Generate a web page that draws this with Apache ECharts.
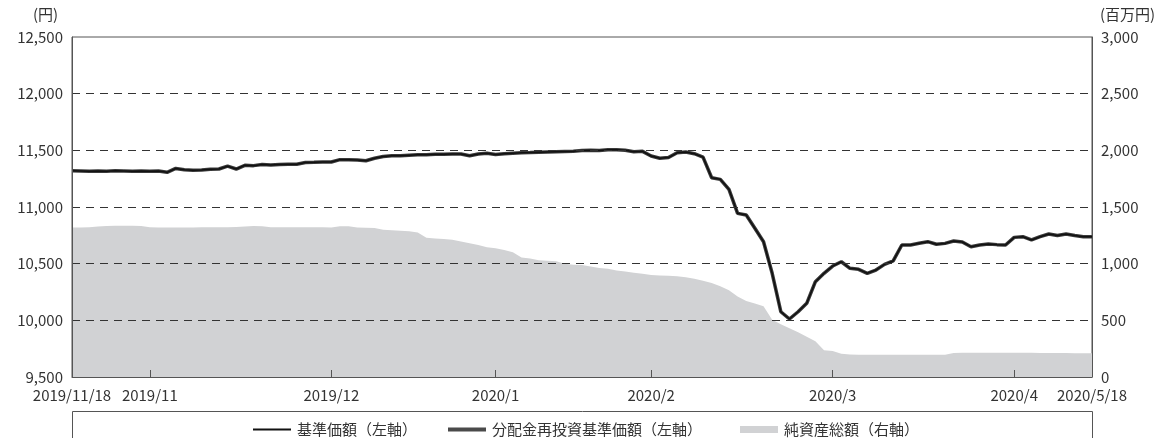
<!DOCTYPE html>
<html>
<head>
<meta charset="utf-8">
<script src="https://cdn.jsdelivr.net/npm/echarts@6/dist/echarts.min.js"></script>
<style>
  html, body { margin: 0; padding: 0; background: #fff; }
  #chart { width: 1172px; height: 438px; }
</style>
</head>
<body>
<div id="chart"></div>
<script>
// business days 2019/11/18 - 2020/5/18
const dates = [
  '2019/11/18','2019/11/19','2019/11/20','2019/11/21','2019/11/22','2019/11/25','2019/11/26','2019/11/27','2019/11/28','2019/11/29',
  '2019/12/2','2019/12/3','2019/12/4','2019/12/5','2019/12/6','2019/12/9','2019/12/10','2019/12/11','2019/12/12','2019/12/13',
  '2019/12/16','2019/12/17','2019/12/18','2019/12/19','2019/12/20','2019/12/23','2019/12/24','2019/12/25','2019/12/26','2019/12/27',
  '2019/12/30',
  '2020/1/6','2020/1/7','2020/1/8','2020/1/9','2020/1/10','2020/1/14','2020/1/15','2020/1/16','2020/1/17','2020/1/20',
  '2020/1/21','2020/1/22','2020/1/23','2020/1/24','2020/1/27','2020/1/28','2020/1/29','2020/1/30','2020/1/31',
  '2020/2/3','2020/2/4','2020/2/5','2020/2/6','2020/2/7','2020/2/10','2020/2/12','2020/2/13','2020/2/14','2020/2/17',
  '2020/2/18','2020/2/19','2020/2/20','2020/2/21','2020/2/25','2020/2/26','2020/2/27','2020/2/28',
  '2020/3/2','2020/3/3','2020/3/4','2020/3/5','2020/3/6','2020/3/9','2020/3/10','2020/3/11','2020/3/12','2020/3/13',
  '2020/3/16','2020/3/17','2020/3/18','2020/3/19','2020/3/23','2020/3/24','2020/3/25','2020/3/26','2020/3/27','2020/3/30',
  '2020/3/31',
  '2020/4/1','2020/4/2','2020/4/3','2020/4/6','2020/4/7','2020/4/8','2020/4/9','2020/4/10','2020/4/13','2020/4/14',
  '2020/4/15','2020/4/16','2020/4/17','2020/4/20','2020/4/21','2020/4/22','2020/4/23','2020/4/24','2020/4/27','2020/4/28',
  '2020/4/30',
  '2020/5/1','2020/5/7','2020/5/8','2020/5/11','2020/5/12','2020/5/13','2020/5/14','2020/5/15','2020/5/18'
];

// month-end ticks and their labels
const monthEnds = ['2019/11/29', '2019/12/30', '2020/1/31', '2020/2/28', '2020/3/31', '2020/4/30'];
const monthLabels = ['2019/11', '2019/12', '2020/1', '2020/2', '2020/3', '2020/4'];

// 基準価額 (円)
const nav = [
  11320, 11318, 11315, 11318, 11316, 11320, 11318, 11316, 11318, 11316,
  11318, 11306, 11340, 11328, 11325, 11326, 11333, 11335, 11360, 11335,
  11368, 11365, 11375, 11370, 11375, 11378, 11378, 11392, 11394, 11398,
  11397, 11418, 11418, 11415, 11408, 11430, 11445, 11452, 11452, 11456,
  11460, 11462, 11465, 11466, 11468, 11468, 11452, 11468, 11475, 11464,
  11470, 11475, 11478, 11480, 11484, 11486, 11488, 11490, 11492, 11498,
  11500, 11498, 11506, 11505, 11500, 11488, 11491, 11450, 11430, 11436,
  11478, 11485, 11470, 11440, 11258, 11244, 11156, 10944, 10929, 10812,
  10694, 10415, 10076, 10012, 10076, 10150, 10341, 10415, 10479, 10517,
  10459, 10450, 10415, 10444, 10494, 10524, 10665, 10665, 10680, 10694,
  10671, 10679, 10700, 10691, 10650, 10665, 10674, 10668, 10665, 10732,
  10738, 10709, 10738, 10762, 10748, 10762, 10748, 10738, 10738
];

// 分配金再投資基準価額 (円) - no distributions in period
const navReinvested = nav.slice();

// 純資産総額 (百万円)
const netAssets = [
  1320, 1320, 1322, 1328, 1332, 1334, 1335, 1335, 1332, 1322,
  1320, 1320, 1320, 1320, 1320, 1321, 1322, 1322, 1322, 1323,
  1328, 1332, 1330, 1322, 1322, 1322, 1322, 1322, 1322, 1322,
  1320, 1330, 1330, 1320, 1318, 1315, 1300, 1295, 1290, 1285,
  1275, 1228, 1222, 1218, 1210, 1195, 1180, 1165, 1145, 1135,
  1120, 1100, 1055, 1045, 1030, 1025, 1022, 1000, 990, 988,
  975, 962, 955, 940, 930, 920, 912, 900, 895, 893,
  888, 880, 868, 850, 830, 800, 765, 710, 670, 648,
  625, 505, 465, 430, 395, 355, 315, 235, 230, 205,
  198, 197, 197, 197, 197, 197, 197, 197, 197, 197,
  197, 197, 212, 214, 214, 214, 214, 214, 214, 213,
  213, 213, 212, 212, 211, 211, 210, 210, 209
];

const FONT = '"Noto Sans CJK JP", "Noto Sans", sans-serif';
const TEXT = '#333';
const AXIS = '#555';
const last = dates.length - 1;

const chart = echarts.init(document.getElementById('chart'));

const legendBase = {
  top: 417,
  itemWidth: 38,
  icon: 'rect',
  itemGap: 0,
  selectedMode: false,
  itemStyle: { borderWidth: 0 },
  textStyle: { fontFamily: FONT, fontSize: 15, color: TEXT, padding: [0, 0, 0, 1] }
};

chart.setOption({
  animation: false,
  textStyle: { fontFamily: FONT },
  grid: {
    left: 72, right: 80, top: 37, bottom: 61,
    show: true, borderColor: AXIS, borderWidth: 1, backgroundColor: 'transparent'
  },
  legend: [
    Object.assign({}, legendBase, { left: 248, itemHeight: 2, data: ['基準価額（左軸）'] }),
    Object.assign({}, legendBase, { left: 443, itemHeight: 4, data: ['分配金再投資基準価額（左軸）'] }),
    Object.assign({}, legendBase, { left: 735, itemHeight: 7, data: ['純資産総額（右軸）'] })
  ],
  graphic: [
    { type: 'text', left: 33, top: 7, style: { text: '(円)', font: '15px ' + FONT, fill: TEXT } },
    { type: 'text', left: 1100, top: 7, style: { text: '(百万円)', font: '15px ' + FONT, fill: TEXT } },
    { type: 'rect', shape: { x: 72.5, y: 411.5, width: 1020, height: 60 },
      style: { fill: 'none', stroke: AXIS, lineWidth: 1 }, silent: true }
  ],
  xAxis: {
    type: 'category',
    data: dates,
    boundaryGap: false,
    z: 5,
    axisLine: { lineStyle: { color: AXIS, width: 1 } },
    axisTick: {
      show: true, inside: true, length: 7,
      interval: (i, v) => monthEnds.indexOf(v) >= 0,
      lineStyle: { color: AXIS }
    },
    axisLabel: {
      interval: (i, v) => i === 0 || i === last || monthEnds.indexOf(v) >= 0,
      formatter: (v, i) => {
        const k = monthEnds.indexOf(v);
        return k >= 0 ? monthLabels[k] : v;
      },
      color: TEXT, fontSize: 15, margin: 11, fontFamily: FONT
    },
    splitLine: { show: false }
  },
  yAxis: [
    {
      type: 'value', min: 9500, max: 12500, interval: 500, z: 5,
      axisLine: { show: true, lineStyle: { color: AXIS } },
      axisTick: { show: false },
      axisLabel: { color: TEXT, fontSize: 15, margin: 9, fontFamily: FONT,
        formatter: v => v.toLocaleString('en-US') },
      splitLine: { show: true, showMinLine: false, showMaxLine: false,
        lineStyle: { color: '#333', type: [8, 6], width: 1 } }
    },
    {
      type: 'value', min: 0, max: 3000, interval: 500, z: 5,
      axisLine: { show: true, lineStyle: { color: AXIS } },
      axisTick: { show: false },
      axisLabel: { color: TEXT, fontSize: 15, margin: 9, fontFamily: FONT,
        formatter: v => v.toLocaleString('en-US') },
      splitLine: { show: false }
    }
  ],
  series: [
    {
      name: '純資産総額（右軸）',
      type: 'line',
      yAxisIndex: 1,
      data: netAssets,
      symbol: 'none',
      color: '#d1d2d4',
      lineStyle: { width: 0, color: '#d1d2d4' },
      areaStyle: { color: '#d1d2d4', opacity: 1 },
      z: 1
    },
    {
      name: '分配金再投資基準価額（左軸）',
      type: 'line',
      data: navReinvested,
      symbol: 'none',
      color: '#4a4a4a',
      lineStyle: { width: 3.5, color: '#3a3a3a' },
      z: 3
    },
    {
      name: '基準価額（左軸）',
      type: 'line',
      data: nav,
      symbol: 'none',
      color: '#111',
      lineStyle: { width: 1.5, color: '#111' },
      z: 4
    }
  ]
});
</script>
</body>
</html>
